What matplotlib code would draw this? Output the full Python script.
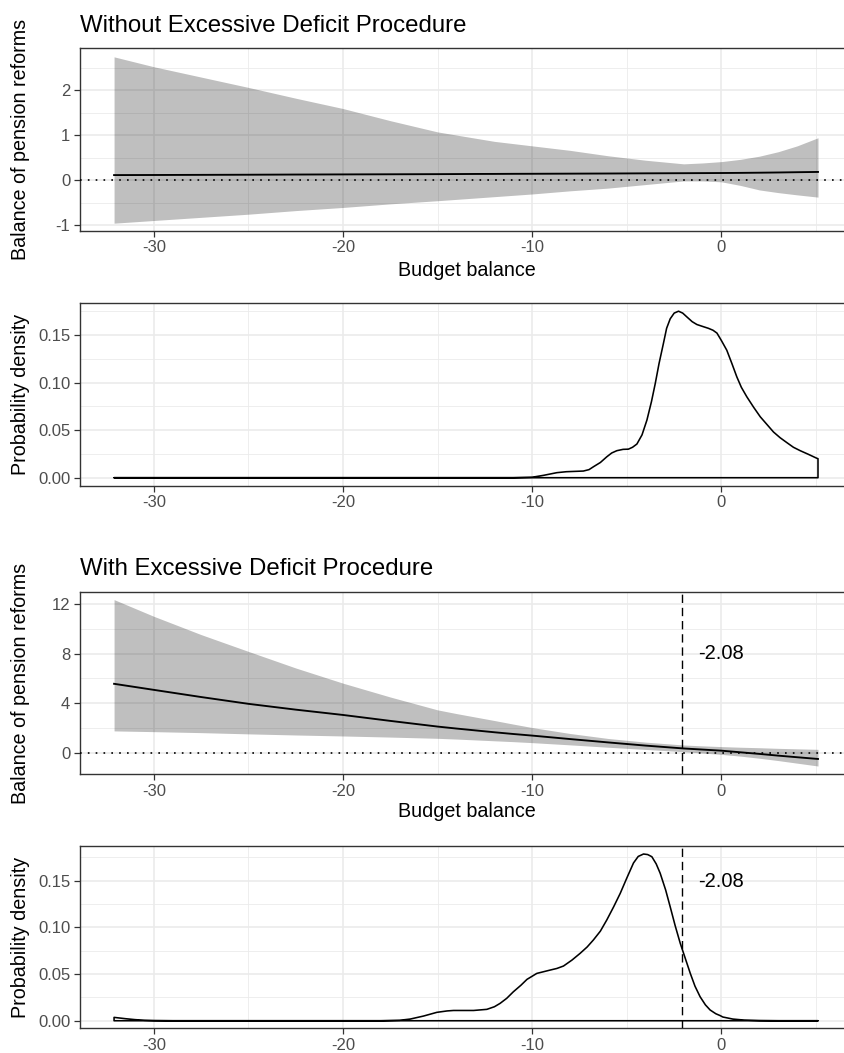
import numpy as np
import matplotlib
matplotlib.use("Agg")
import matplotlib.pyplot as plt
from matplotlib.ticker import FixedLocator

plt.rcParams['font.family'] = ['Liberation Sans', 'DejaVu Sans']
plt.rcParams['axes.unicode_minus'] = False

# ---------------- data ----------------
titles = ["Without Excessive Deficit Procedure", "With Excessive Deficit Procedure"]
xlabel = "Budget balance"
ylabel_effect = "Balance of pension reforms"
ylabel_density = "Probability density"
threshold = -2.08
threshold_label = "-2.08"

x_grid = [-32.1, -30, -27.5, -25, -22.5, -20, -17.5, -15, -14, -13, -12, -11, -10, -8, -6, -4, -2, -1, 0, 1, 2, 3, 4, 5.1]

# Without EDP: marginal effect and confidence band
effect_no = [0.11, 0.112, 0.115, 0.118, 0.122, 0.125, 0.128, 0.131, 0.133, 0.135, 0.136, 0.138, 0.139, 0.142, 0.145, 0.149, 0.152, 0.154, 0.156, 0.159, 0.163, 0.168, 0.174, 0.18]
upper_no = [2.74, 2.52, 2.29, 2.06, 1.82, 1.59, 1.32, 1.07, 1.00, 0.93, 0.86, 0.81, 0.76, 0.66, 0.54, 0.44, 0.36, 0.38, 0.41, 0.46, 0.53, 0.63, 0.76, 0.94]
lower_no = [-0.96, -0.90, -0.83, -0.76, -0.68, -0.61, -0.53, -0.46, -0.43, -0.40, -0.37, -0.34, -0.31, -0.24, -0.18, -0.10, -0.02, -0.02, -0.04, -0.12, -0.22, -0.28, -0.33, -0.38]

# With EDP
effect_edp = [5.57, 5.08, 4.50, 3.95, 3.48, 3.05, 2.57, 2.11, 1.95, 1.80, 1.65, 1.51, 1.38, 1.10, 0.83, 0.57, 0.34, 0.25, 0.16, 0.03, -0.10, -0.24, -0.37, -0.51]
upper_edp = [12.38, 11.03, 9.55, 8.19, 6.85, 5.62, 4.50, 3.46, 3.16, 2.88, 2.60, 2.31, 2.03, 1.55, 1.15, 0.85, 0.62, 0.55, 0.49, 0.44, 0.40, 0.35, 0.31, 0.27]
lower_edp = [1.76, 1.70, 1.62, 1.52, 1.43, 1.35, 1.26, 1.16, 1.10, 1.03, 0.96, 0.89, 0.81, 0.63, 0.44, 0.26, 0.08, -0.03, -0.14, -0.28, -0.45, -0.64, -0.85, -1.08]

# Densities of budget balance
dens_no_x = [-32.1, -11.0, -10.0, -9.4, -8.7, -8.2, -7.3, -7.0, -6.76, -6.4, -6.06, -5.8, -5.53, -5.2, -4.92, -4.7, -4.47, -4.2, -3.94, -3.7, -3.5, -3.3, -3.07, -2.9, -2.71, -2.5, -2.27, -2.05, -1.83, -1.55, -1.3, -1.0, -0.69, -0.45, -0.24, 0.0, 0.28, 0.55, 0.81, 1.05, 1.34, 1.7, 2.05, 2.4, 2.75, 3.1, 3.46, 3.8, 4.16, 4.6, 5.04, 5.1]
dens_no_y = [0.0, 0.0, 0.0005, 0.0025, 0.0053, 0.0063, 0.007, 0.0085, 0.0116, 0.016, 0.022, 0.026, 0.0284, 0.0298, 0.030, 0.032, 0.0354, 0.045, 0.0606, 0.080, 0.099, 0.120, 0.141, 0.157, 0.167, 0.173, 0.175, 0.173, 0.169, 0.164, 0.161, 0.159, 0.157, 0.155, 0.152, 0.144, 0.134, 0.120, 0.106, 0.095, 0.085, 0.074, 0.064, 0.056, 0.048, 0.042, 0.0368, 0.032, 0.0284, 0.0245, 0.0204, 0.020]

dens_edp_x = [-32.1, -31.5, -31.0, -30.5, -30.0, -29.0, -18.0, -17.0, -16.45, -15.75, -15.04, -14.5, -14.16, -13.1, -12.4, -12.0, -11.7, -11.35, -11.0, -10.6, -10.28, -9.76, -9.05, -8.7, -8.35, -7.9, -7.47, -7.1, -6.77, -6.4, -6.06, -5.7, -5.35, -5.0, -4.65, -4.4, -4.12, -3.9, -3.68, -3.45, -3.24, -2.95, -2.71, -2.45, -2.18, -1.9, -1.65, -1.4, -1.13, -0.85, -0.6, -0.3, -0.07, 0.07, 0.6, 1.2, 2.0, 3.0, 5.1]
dens_edp_y = [0.0036, 0.0022, 0.0012, 0.0005, 0.0002, 0.0, 0.0, 0.0005, 0.0018, 0.005, 0.009, 0.0105, 0.011, 0.011, 0.0122, 0.015, 0.0186, 0.024, 0.031, 0.038, 0.0443, 0.0507, 0.0543, 0.056, 0.0586, 0.065, 0.0722, 0.079, 0.0865, 0.096, 0.108, 0.122, 0.1365, 0.153, 0.169, 0.176, 0.1786, 0.178, 0.1757, 0.168, 0.158, 0.140, 0.122, 0.102, 0.083, 0.066, 0.0508, 0.037, 0.0257, 0.017, 0.0115, 0.0075, 0.0055, 0.004, 0.0018, 0.0007, 0.0002, 0.0, 0.0]

x_major = [-30, -20, -10, 0]
x_minor = [-25, -15, -5, 5]
x_ticklabels = ["-30", "-20", "-10", "0"]

y1_major = [-1, 0, 1, 2]; y1_minor = [-0.5, 0.5, 1.5, 2.5]; y1_labels = ["-1", "0", "1", "2"]
y3_major = [0, 4, 8, 12]; y3_minor = [2, 6, 10]; y3_labels = ["0", "4", "8", "12"]
yd_major = [0, 0.05, 0.10, 0.15]; yd_minor = [0.025, 0.075, 0.125, 0.175]; yd_labels = ["0.00", "0.05", "0.10", "0.15"]

# ---------------- layout ----------------
W, H = 845, 1053
fig = plt.figure(figsize=(W / 100, H / 100), dpi=100)
L, R = 80, 853

def make_ax(top, bottom):
    return fig.add_axes([L / W, 1 - bottom / H, (R - L) / W, (bottom - top) / H])

GRID = '#EBEBEB'

def style(ax, ylim, ymaj, ymin, ylabs):
    ax.set_xlim(-33.9, 6.95)
    ax.set_ylim(*ylim)
    ax.xaxis.set_major_locator(FixedLocator(x_major))
    ax.xaxis.set_minor_locator(FixedLocator(x_minor))
    ax.set_xticklabels(x_ticklabels)
    ax.yaxis.set_major_locator(FixedLocator(ymaj))
    ax.yaxis.set_minor_locator(FixedLocator(ymin))
    ax.set_yticklabels(ylabs)
    ax.grid(which='major', color=GRID, lw=1.2, zorder=0)
    ax.grid(which='minor', color=GRID, lw=0.6, zorder=0)
    ax.set_axisbelow(True)
    ax.tick_params(which='major', labelsize=12, labelcolor='#4D4D4D', color='#333333',
                   length=4, width=0.9, pad=3)
    ax.tick_params(which='minor', length=0)
    for s in ax.spines.values():
        s.set_color('#333333')
        s.set_linewidth(1.0)
    ax.spines['right'].set_visible(False)

def ylab(text, top, bottom):
    fig.text(21 / W, 1 - (top + bottom) / 2 / H, text, rotation=90, ha='center', va='center',
             fontsize=14.2, color='black')

def xlab(yc):
    fig.text((L + R) / 2 / W, 1 - yc / H, xlabel, ha='center', va='center', fontsize=14.2)

def title(text, baseline):
    fig.text(L / W, 1 - baseline / H, text, ha='left', va='baseline', fontsize=17.3)

def band(ax, lo, hi):
    ax.fill_between(x_grid, lo, hi, color='black', alpha=0.25, lw=0, zorder=2)

def density(ax, xs, ys):
    px = list(xs) + [xs[-1], xs[0]]
    py = list(ys) + [0.0, 0.0]
    ax.fill(px, py, facecolor='none', edgecolor='black', lw=1.15, zorder=3, joinstyle='round')

DOT = (0, (1, 3.7))

# Panel 1
p1 = (48.3, 230.7)
ax1 = make_ax(*p1)
style(ax1, (-1.127, 2.93), y1_major, y1_minor, y1_labels)
band(ax1, lower_no, upper_no)
ax1.plot(x_grid, effect_no, color='black', lw=1.35, zorder=3)
ax1.axhline(0, color='black', lw=1.2, linestyle=DOT, zorder=4)
title(titles[0], 32.3)
ylab(ylabel_effect, *p1)
xlab(270.5)

# Panel 2
p2 = (303.3, 485.7)
ax2 = make_ax(*p2)
style(ax2, (-0.0084, 0.1833), yd_major, yd_minor, yd_labels)
density(ax2, dens_no_x, dens_no_y)
ylab(ylabel_density, *p2)

# Panel 3
p3 = (591.7, 774.3)
ax3 = make_ax(*p3)
style(ax3, (-1.75, 13.02), y3_major, y3_minor, y3_labels)
band(ax3, lower_edp, upper_edp)
ax3.plot(x_grid, effect_edp, color='black', lw=1.35, zorder=3)
ax3.axhline(0, color='black', lw=1.2, linestyle=DOT, zorder=4)
ax3.axvline(threshold, color='black', lw=1.0, linestyle=(0, (6, 3.5)), zorder=4)
ax3.text(-1.22, 8.0, threshold_label, ha='left', va='center', fontsize=14.5, zorder=5)
title(titles[1], 575)
ylab(ylabel_effect, *p3)
xlab(811.5)

# Panel 4
p4 = (845.7, 1028.3)
ax4 = make_ax(*p4)
style(ax4, (-0.0081, 0.1875), yd_major, yd_minor, yd_labels)
density(ax4, dens_edp_x, dens_edp_y)
ax4.axvline(threshold, color='black', lw=1.0, linestyle=(0, (6, 3.5)), zorder=4)
ax4.text(-1.22, 0.149, threshold_label, ha='left', va='center', fontsize=14.5, zorder=5)
ylab(ylabel_density, *p4)

fig.savefig("out.png", dpi=100)
